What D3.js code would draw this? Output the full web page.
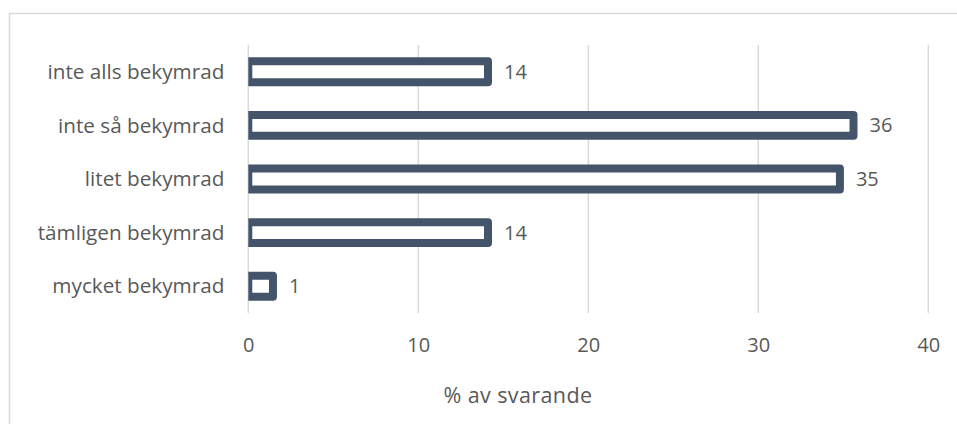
<!DOCTYPE html>
<html>
<head>
<meta charset="utf-8">
<script src="https://cdn.jsdelivr.net/npm/d3@7"></script>
<style>
  html, body { margin: 0; padding: 0; background: #fff; }
  svg text { font-family: "Open Sans", "Liberation Sans", sans-serif; fill: #595959; }
</style>
</head>
<body>
<svg id="chart" width="957" height="424"></svg>
<script>
// data
var categories = ["inte alls bekymrad", "inte så bekymrad", "litet bekymrad", "tämligen bekymrad", "mycket bekymrad"];
var values     = [14.1, 35.6, 34.8, 14.1, 1.45];
var ticks      = [0, 10, 20, 30, 40];
var axis_title = "% av svarande";

var svg = d3.select('#chart');

var margin = {top: 45, left: 248.3, right: 957 - 928.3, bottom: 424 - 313},
    width  = 957 - margin.left - margin.right,
    height = 424 - margin.top - margin.bottom;

// chart frame (only top/left visible, rest runs off the page)
svg.append('rect')
    .attr('x', 9.5).attr('y', 13.5)
    .attr('width', 960).attr('height', 420)
    .attr('fill', 'none')
    .attr('stroke', '#d9d9d9')
    .attr('stroke-width', 1.5);

var x = d3.scaleLinear().domain([0, 40]).range([0, width]);
var y = d3.scaleBand().domain(categories).range([0, height]).paddingInner(0.61).paddingOuter(0.305);

var g = svg.append('g').attr('transform', `translate(${margin.left}, ${margin.top})`);

// gridlines
g.append('g')
    .selectAll('line')
    .data(ticks)
    .join('line')
    .attr('x1', d => x(d)).attr('x2', d => x(d))
    .attr('y1', 0).attr('y2', height)
    .attr('stroke', '#d9d9d9')
    .attr('stroke-width', 1.5);

// bars, clipped at the plot area so the left stroke is cut like in the original
svg.append('clipPath').attr('id', 'plot-clip')
    .append('rect').attr('x', 0).attr('y', -20).attr('width', width + 40).attr('height', height + 40);

g.append('g')
    .attr('clip-path', 'url(#plot-clip)')
    .selectAll('rect')
    .data(values)
    .join('rect')
    .attr('x', 0)
    .attr('y', (d, i) => y(categories[i]))
    .attr('width', d => x(d))
    .attr('height', y.bandwidth())
    .attr('fill', '#fff')
    .attr('stroke', '#44546a')
    .attr('stroke-width', 8)
    .attr('stroke-linejoin', 'round');

// value labels
g.append('g')
    .selectAll('text')
    .data(values)
    .join('text')
    .attr('x', d => x(d) + 16)
    .attr('y', (d, i) => y(categories[i]) + y.bandwidth() / 2)
    .attr('dy', '0.35em')
    .style('font-size', '20px')
    .text(d => d3.format('.0f')(d));

// category labels
g.append('g')
    .selectAll('text')
    .data(categories)
    .join('text')
    .attr('x', -24)
    .attr('y', d => y(d) + y.bandwidth() / 2)
    .attr('dy', '0.35em')
    .attr('text-anchor', 'end')
    .style('font-size', '20.7px')
    .text(d => d);

// x axis ticks (no line)
var xAxis = g.append('g')
    .attr('transform', `translate(0, ${height})`)
    .call(d3.axisBottom(x).tickValues(ticks).tickSize(0).tickPadding(25).tickFormat(d3.format('d')));
xAxis.select('.domain').remove();
xAxis.selectAll('text')
    .style('font-size', '20px')
    .style('font-family', '"Open Sans", "Liberation Sans", sans-serif')
    .attr('fill', '#595959');

// axis title
svg.append('text')
    .attr('x', 518)
    .attr('y', 395)
    .attr('dy', '0.35em')
    .attr('text-anchor', 'middle')
    .style('font-size', '21.5px')
    .style('letter-spacing', '0.4px')
    .text(axis_title);
</script>
</body>
</html>
